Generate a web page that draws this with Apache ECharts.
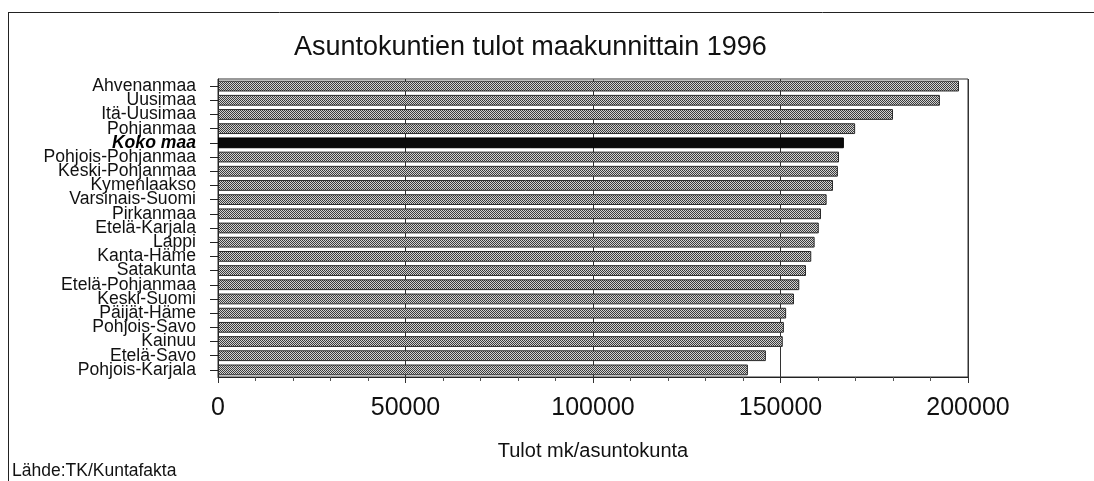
<!DOCTYPE html>
<html>
<head>
<meta charset="utf-8">
<script src="https://cdn.jsdelivr.net/npm/echarts@6/dist/echarts.min.js"></script>
<style>
  html, body { margin: 0; padding: 0; background: #fff; }
  #chart { width: 1094px; height: 481px; }
</style>
</head>
<body>
<div id="chart"></div>
<script>
// Household income by region, 1996 (mk per household)
const regions = [
  'Ahvenanmaa', 'Uusimaa', 'Itä-Uusimaa', 'Pohjanmaa', 'Koko maa',
  'Pohjois-Pohjanmaa', 'Keski-Pohjanmaa', 'Kymenlaakso', 'Varsinais-Suomi',
  'Pirkanmaa', 'Etelä-Karjala', 'Lappi', 'Kanta-Häme', 'Satakunta',
  'Etelä-Pohjanmaa', 'Keski-Suomi', 'Päijät-Häme', 'Pohjois-Savo',
  'Kainuu', 'Etelä-Savo', 'Pohjois-Karjala'
];
const incomes = [
  197600, 192500, 180000, 169900, 166900,
  165600, 165300, 164000, 162300,
  160800, 160200, 159100, 158200, 156800,
  155000, 153600, 151500, 150900,
  150600, 146100, 141300
];
const wholeCountry = 'Koko maa';
const xTicks = [0, 50000, 100000, 150000, 200000];

// Dithered grey fill for the regional bars
function ditherPattern() {
  const c = document.createElement('canvas');
  c.width = 2; c.height = 2;
  const g = c.getContext('2d');
  g.fillStyle = '#d2d2d2'; g.fillRect(0, 0, 2, 2);
  g.fillStyle = '#3c3c3c';
  g.fillRect(0, 0, 1, 1);
  g.fillRect(1, 1, 1, 1);
  return c;
}
const pattern = { image: ditherPattern(), repeat: 'repeat' };

const FONT = '"Liberation Sans", Arial, Helvetica, sans-serif';
const chart = echarts.init(document.getElementById('chart'));

chart.setOption({
  animation: false,
  backgroundColor: '#fff',
  title: {
    text: 'Asuntokuntien tulot maakunnittain 1996',
    left: 289, top: 29,
    textStyle: { fontFamily: FONT, fontSize: 27, fontWeight: 'normal', color: '#111' }
  },
  graphic: [
    { type: 'line', shape: { x1: 8, y1: 12.5, x2: 1094, y2: 12.5 }, style: { stroke: '#222', lineWidth: 1 } },
    { type: 'line', shape: { x1: 8.5, y1: 12, x2: 8.5, y2: 481 }, style: { stroke: '#222', lineWidth: 1 } },
    { type: 'text', left: 12, top: 462,
      style: { text: 'Lähde:TK/Kuntafakta', fontFamily: FONT, fontSize: 17.5, fill: '#111' } }
  ],
  grid: {
    left: 218, right: 126, top: 79, bottom: 104,
    show: true, borderColor: '#333', borderWidth: 1
  },
  xAxis: {
    type: 'value', min: 0, max: 200000, interval: 50000,
    name: 'Tulot mk/asuntokunta',
    nameLocation: 'middle', nameGap: 64,
    nameTextStyle: { fontFamily: FONT, fontSize: 20, color: '#111' },
    axisLine: { show: true, lineStyle: { color: '#222' } },
    axisTick: { show: true, length: 6, lineStyle: { color: '#333' } },
    minorTick: { show: true, splitNumber: 5, length: 4, lineStyle: { color: '#555' } },
    splitLine: { show: true, lineStyle: { color: '#333', width: 1 } },
    axisLabel: {
      fontFamily: FONT, fontSize: 25, color: '#111', margin: 19,
      customValues: xTicks,
      formatter: v => String(v)
    }
  },
  yAxis: {
    type: 'category', data: regions, inverse: true,
    axisLine: { show: true, lineStyle: { color: '#222' } },
    axisTick: { show: true, alignWithLabel: true, length: 8, lineStyle: { color: '#222' } },
    axisLabel: {
      fontFamily: FONT, fontSize: 17.6, color: '#111', margin: 22,
      lineHeight: 14, interval: 0,
      formatter: v => v === wholeCountry ? '{b|' + v + '}' : v,
      rich: { b: { fontFamily: FONT, fontSize: 17.6, fontWeight: 'bold', fontStyle: 'italic', color: '#000', lineHeight: 14 } }
    }
  },
  series: [{
    type: 'bar',
    data: incomes.map((v, i) => ({
      value: v,
      itemStyle: regions[i] === wholeCountry
        ? { color: '#0a0a0a', borderColor: '#000', borderWidth: 1 }
        : { color: pattern, borderColor: '#2a2a2a', borderWidth: 1 }
    })),
    barCategoryGap: '24%',
    silent: true
  }]
});
</script>
</body>
</html>
